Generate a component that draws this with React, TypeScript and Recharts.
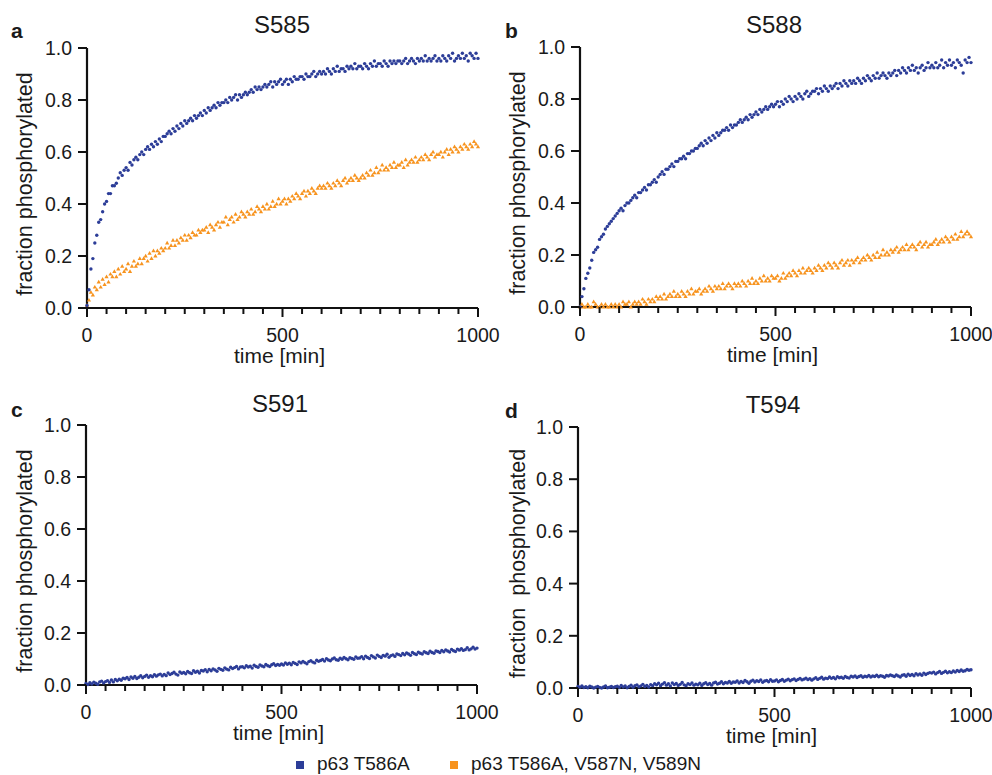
import React from "react"
import { ScatterChart, Scatter, XAxis, YAxis } from "recharts"

const FONT = '"Liberation Sans", Arial, Helvetica, sans-serif'
const BLUE = "#2C3D98"
const ORANGE = "#F7931E"
const AXIS = "#111"

// sampling times [min]
const TIMES = [
  0, 5, 10, 15, 20, 25, 30, 35, 40, 45, 50, 55, 60, 65, 70, 75, 80, 85, 90, 95,
  100, 105, 110, 115, 120, 125, 130, 135, 140, 145, 150, 155, 160, 165, 170, 175, 180, 185, 190, 195,
  200, 205, 210, 215, 220, 225, 230, 235, 240, 245, 250, 255, 260, 265, 270, 275, 280, 285, 290, 295,
  300, 305, 310, 315, 320, 325, 330, 335, 340, 345, 350, 355, 360, 365, 370, 375, 380, 385, 390, 395,
  400, 405, 410, 415, 420, 425, 430, 435, 440, 445, 450, 455, 460, 465, 470, 475, 480, 485, 490, 495,
  500, 505, 510, 515, 520, 525, 530, 535, 540, 545, 550, 555, 560, 565, 570, 575, 580, 585, 590, 595,
  600, 605, 610, 615, 620, 625, 630, 635, 640, 645, 650, 655, 660, 665, 670, 675, 680, 685, 690, 695,
  700, 705, 710, 715, 720, 725, 730, 735, 740, 745, 750, 755, 760, 765, 770, 775, 780, 785, 790, 795,
  800, 805, 810, 815, 820, 825, 830, 835, 840, 845, 850, 855, 860, 865, 870, 875, 880, 885, 890, 895,
  900, 905, 910, 915, 920, 925, 930, 935, 940, 945, 950, 955, 960, 965, 970, 975, 980, 985, 990, 995,
  1000,
]

const X_TICKS = [0, 50, 100, 150, 200, 250, 300, 350, 400, 450, 500, 550, 600, 650, 700, 750, 800, 850, 900, 950, 1000]
const Y_TICKS = [0, 0.2, 0.4, 0.6, 0.8, 1.0]

// S585
const s585Blue = [
  0.01, 0.07, 0.15, 0.19, 0.25, 0.28, 0.33, 0.34, 0.37, 0.40, 0.41, 0.44, 0.44, 0.47, 0.47, 0.48, 0.50, 0.52, 0.51, 0.53,
  0.54, 0.53, 0.56, 0.55, 0.57, 0.58, 0.57, 0.59, 0.60, 0.59, 0.61, 0.62, 0.61, 0.63, 0.62, 0.64, 0.63, 0.65, 0.64, 0.66,
  0.66, 0.67, 0.68, 0.67, 0.69, 0.68, 0.70, 0.69, 0.71, 0.70, 0.72, 0.71, 0.72, 0.73, 0.72, 0.74, 0.73, 0.74, 0.75, 0.74,
  0.76, 0.75, 0.77, 0.76, 0.77, 0.78, 0.77, 0.79, 0.78, 0.79, 0.79, 0.80, 0.79, 0.81, 0.80, 0.81, 0.82, 0.80, 0.82, 0.81,
  0.82, 0.83, 0.82, 0.83, 0.84, 0.83, 0.85, 0.84, 0.85, 0.84, 0.85, 0.86, 0.85, 0.86, 0.87, 0.85, 0.87, 0.86, 0.87, 0.88,
  0.86, 0.87, 0.88, 0.86, 0.88, 0.87, 0.89, 0.88, 0.88, 0.89, 0.89, 0.88, 0.90, 0.89, 0.89, 0.90, 0.91, 0.89, 0.90, 0.91,
  0.90, 0.91, 0.90, 0.92, 0.91, 0.90, 0.92, 0.91, 0.93, 0.91, 0.92, 0.92, 0.91, 0.93, 0.92, 0.93, 0.92, 0.94, 0.92, 0.93,
  0.93, 0.92, 0.94, 0.93, 0.92, 0.94, 0.93, 0.95, 0.93, 0.94, 0.94, 0.93, 0.95, 0.94, 0.93, 0.95, 0.94, 0.95, 0.94, 0.95,
  0.95, 0.94, 0.95, 0.96, 0.94, 0.95, 0.96, 0.95, 0.94, 0.96, 0.95, 0.96, 0.95, 0.97, 0.95, 0.96, 0.95, 0.96, 0.97, 0.95,
  0.96, 0.95, 0.97, 0.96, 0.95, 0.97, 0.96, 0.98, 0.95, 0.96, 0.97, 0.96, 0.98, 0.96, 0.97, 0.95, 0.98, 0.97, 0.96, 0.98,
  0.96,
]
const s585Orange = [
  0.01, 0.03, 0.06, 0.05, 0.08, 0.07, 0.10, 0.08, 0.11, 0.09, 0.12, 0.10, 0.13, 0.12, 0.14, 0.12, 0.15, 0.13, 0.16, 0.14,
  0.15, 0.17, 0.14, 0.16, 0.18, 0.16, 0.17, 0.19, 0.17, 0.19, 0.20, 0.18, 0.21, 0.19, 0.22, 0.20, 0.22, 0.21, 0.23, 0.22,
  0.23, 0.25, 0.23, 0.24, 0.26, 0.24, 0.26, 0.25, 0.27, 0.26, 0.28, 0.26, 0.28, 0.27, 0.29, 0.28, 0.28, 0.30, 0.29, 0.30,
  0.30, 0.31, 0.29, 0.32, 0.31, 0.30, 0.32, 0.33, 0.31, 0.33, 0.33, 0.35, 0.32, 0.34, 0.35, 0.33, 0.36, 0.34, 0.35, 0.37,
  0.36, 0.35, 0.37, 0.36, 0.38, 0.36, 0.37, 0.39, 0.38, 0.37, 0.39, 0.38, 0.40, 0.38, 0.39, 0.41, 0.39, 0.40, 0.42, 0.40,
  0.41, 0.42, 0.40, 0.42, 0.41, 0.43, 0.42, 0.44, 0.43, 0.42, 0.44, 0.45, 0.43, 0.45, 0.44, 0.46, 0.45, 0.44, 0.46, 0.47,
  0.46, 0.47, 0.46, 0.48, 0.47, 0.46, 0.48, 0.47, 0.49, 0.48, 0.47, 0.49, 0.50, 0.48, 0.49, 0.50, 0.49, 0.51, 0.50, 0.49,
  0.50, 0.51, 0.50, 0.52, 0.51, 0.53, 0.51, 0.52, 0.54, 0.52, 0.53, 0.55, 0.53, 0.54, 0.53, 0.55, 0.54, 0.56, 0.54, 0.55,
  0.55, 0.56, 0.54, 0.57, 0.55, 0.56, 0.57, 0.56, 0.58, 0.56, 0.57, 0.58, 0.57, 0.59, 0.58, 0.57, 0.59, 0.60, 0.58, 0.59,
  0.59, 0.60, 0.58, 0.60, 0.61, 0.59, 0.61, 0.60, 0.62, 0.61, 0.60, 0.62, 0.61, 0.63, 0.62, 0.61, 0.63, 0.62, 0.64, 0.63,
  0.62,
]

// S588
const s588Blue = [
  0.00, 0.04, 0.07, 0.11, 0.13, 0.15, 0.18, 0.21, 0.22, 0.23, 0.26, 0.27, 0.28, 0.30, 0.31, 0.32, 0.33, 0.34, 0.35, 0.36,
  0.37, 0.38, 0.37, 0.39, 0.40, 0.40, 0.41, 0.42, 0.43, 0.42, 0.44, 0.44, 0.45, 0.46, 0.45, 0.47, 0.47, 0.48, 0.49, 0.48,
  0.50, 0.51, 0.52, 0.51, 0.53, 0.53, 0.54, 0.55, 0.54, 0.56, 0.56, 0.57, 0.57, 0.58, 0.57, 0.59, 0.59, 0.60, 0.60, 0.61,
  0.61, 0.62, 0.63, 0.62, 0.64, 0.63, 0.65, 0.64, 0.66, 0.65, 0.67, 0.66, 0.67, 0.68, 0.68, 0.69, 0.68, 0.70, 0.69, 0.70,
  0.70, 0.71, 0.72, 0.71, 0.72, 0.73, 0.72, 0.74, 0.73, 0.74, 0.75, 0.74, 0.76, 0.75, 0.76, 0.77, 0.76, 0.77, 0.78, 0.77,
  0.78, 0.79, 0.77, 0.79, 0.78, 0.80, 0.79, 0.81, 0.80, 0.79, 0.81, 0.80, 0.82, 0.81, 0.80, 0.82, 0.83, 0.81, 0.82, 0.83,
  0.83, 0.84, 0.82, 0.84, 0.83, 0.85, 0.84, 0.83, 0.85, 0.84, 0.85, 0.86, 0.84, 0.86, 0.85, 0.87, 0.86, 0.85, 0.87, 0.86,
  0.87, 0.86, 0.88, 0.87, 0.86, 0.88, 0.87, 0.89, 0.88, 0.87, 0.89, 0.88, 0.90, 0.88, 0.89, 0.90, 0.89, 0.88, 0.90, 0.89,
  0.90, 0.91, 0.89, 0.91, 0.90, 0.92, 0.91, 0.90, 0.92, 0.91, 0.93, 0.91, 0.92, 0.90, 0.92, 0.93, 0.91, 0.92, 0.94, 0.92,
  0.93, 0.92, 0.94, 0.92, 0.93, 0.95, 0.92, 0.94, 0.93, 0.95, 0.93, 0.94, 0.92, 0.95, 0.94, 0.93, 0.90, 0.95, 0.94, 0.96,
  0.94,
]
const s588Orange = [
  0.00, 0.01, 0.00, 0.00, 0.01, 0.00, 0.00, 0.02, 0.01, 0.00, 0.00, 0.01, 0.00, 0.01, 0.00, 0.00, 0.01, 0.00, 0.01, 0.00,
  0.01, 0.00, 0.02, 0.01, 0.01, 0.02, 0.00, 0.01, 0.02, 0.01, 0.02, 0.01, 0.03, 0.02, 0.01, 0.03, 0.02, 0.03, 0.02, 0.04,
  0.03, 0.04, 0.03, 0.05, 0.03, 0.04, 0.05, 0.04, 0.06, 0.04, 0.05, 0.04, 0.06, 0.05, 0.04, 0.06, 0.05, 0.07, 0.05, 0.06,
  0.06, 0.07, 0.05, 0.06, 0.07, 0.06, 0.08, 0.07, 0.06, 0.08, 0.07, 0.08, 0.07, 0.09, 0.07, 0.08, 0.09, 0.08, 0.07, 0.09,
  0.08, 0.09, 0.08, 0.10, 0.09, 0.08, 0.10, 0.09, 0.11, 0.09, 0.10, 0.09, 0.11, 0.10, 0.12, 0.10, 0.11, 0.10, 0.12, 0.11,
  0.11, 0.12, 0.10, 0.11, 0.13, 0.11, 0.12, 0.13, 0.12, 0.14, 0.13, 0.12, 0.14, 0.13, 0.15, 0.13, 0.14, 0.15, 0.14, 0.13,
  0.15, 0.14, 0.16, 0.15, 0.14, 0.16, 0.15, 0.17, 0.16, 0.15, 0.17, 0.16, 0.15, 0.17, 0.18, 0.16, 0.17, 0.18, 0.16, 0.18,
  0.17, 0.18, 0.19, 0.17, 0.18, 0.19, 0.18, 0.20, 0.19, 0.18, 0.20, 0.19, 0.21, 0.19, 0.20, 0.22, 0.20, 0.21, 0.20, 0.22,
  0.21, 0.22, 0.23, 0.21, 0.22, 0.23, 0.22, 0.24, 0.22, 0.23, 0.24, 0.23, 0.22, 0.24, 0.25, 0.23, 0.24, 0.25, 0.23, 0.24,
  0.24, 0.25, 0.26, 0.24, 0.25, 0.26, 0.25, 0.27, 0.26, 0.25, 0.27, 0.26, 0.28, 0.26, 0.27, 0.29, 0.27, 0.28, 0.29, 0.28,
  0.27,
]

// S591
const s591Blue = [
  0.006, 0.002, 0.009, 0.004, 0.011, 0.007, 0.003, 0.012, 0.015, 0.008, 0.013, 0.017, 0.010, 0.019, 0.012, 0.021, 0.016, 0.022, 0.018, 0.026,
  0.024, 0.029, 0.021, 0.031, 0.026, 0.033, 0.025, 0.030, 0.036, 0.028, 0.033, 0.038, 0.030, 0.036, 0.032, 0.040, 0.034, 0.039, 0.042, 0.035,
  0.041, 0.036, 0.046, 0.040, 0.044, 0.049, 0.042, 0.038, 0.050, 0.045, 0.048, 0.043, 0.052, 0.047, 0.044, 0.055, 0.049, 0.053, 0.046, 0.056,
  0.054, 0.059, 0.051, 0.060, 0.055, 0.062, 0.058, 0.053, 0.064, 0.060, 0.057, 0.066, 0.061, 0.058, 0.068, 0.063, 0.067, 0.071, 0.062, 0.069,
  0.070, 0.066, 0.074, 0.069, 0.072, 0.065, 0.076, 0.071, 0.068, 0.077, 0.073, 0.070, 0.079, 0.074, 0.071, 0.078, 0.082, 0.075, 0.079, 0.076,
  0.081, 0.077, 0.085, 0.080, 0.084, 0.078, 0.087, 0.083, 0.079, 0.089, 0.085, 0.091, 0.086, 0.082, 0.090, 0.093, 0.088, 0.085, 0.095, 0.091,
  0.094, 0.098, 0.092, 0.101, 0.096, 0.093, 0.100, 0.104, 0.097, 0.095, 0.103, 0.099, 0.106, 0.101, 0.097, 0.105, 0.102, 0.099, 0.108, 0.103,
  0.104, 0.109, 0.101, 0.111, 0.106, 0.102, 0.113, 0.108, 0.104, 0.115, 0.110, 0.106, 0.114, 0.111, 0.118, 0.107, 0.113, 0.116, 0.110, 0.119,
  0.117, 0.113, 0.121, 0.116, 0.123, 0.119, 0.114, 0.125, 0.120, 0.117, 0.126, 0.122, 0.119, 0.128, 0.124, 0.121, 0.130, 0.125, 0.122, 0.131,
  0.129, 0.125, 0.133, 0.128, 0.135, 0.131, 0.127, 0.137, 0.132, 0.129, 0.138, 0.134, 0.140, 0.133, 0.136, 0.143, 0.135, 0.139, 0.145, 0.138,
  0.142,
]

// T594
const t594Blue = [
  0.006, 0.003, 0.008, 0.002, 0.005, 0.001, 0.007, 0.004, 0.000, 0.003, 0.006, 0.002, 0.000, 0.004, 0.008, 0.001, 0.003, 0.006, 0.002, 0.005,
  0.007, 0.002, 0.010, 0.004, 0.008, 0.001, 0.006, 0.011, 0.003, 0.009, 0.012, 0.005, 0.008, 0.014, 0.006, 0.010, 0.004, 0.013, 0.009, 0.016,
  0.012, 0.018, 0.009, 0.015, 0.020, 0.011, 0.016, 0.008, 0.019, 0.013, 0.017, 0.010, 0.014, 0.021, 0.012, 0.009, 0.016, 0.013, 0.019, 0.011,
  0.015, 0.012, 0.018, 0.010, 0.016, 0.020, 0.013, 0.017, 0.011, 0.019, 0.022, 0.015, 0.018, 0.024, 0.016, 0.021, 0.019, 0.025, 0.018, 0.023,
  0.022, 0.027, 0.019, 0.025, 0.021, 0.029, 0.024, 0.018, 0.026, 0.030, 0.023, 0.028, 0.025, 0.031, 0.022, 0.027, 0.029, 0.024, 0.032, 0.026,
  0.027, 0.031, 0.024, 0.029, 0.033, 0.026, 0.030, 0.034, 0.028, 0.032, 0.035, 0.029, 0.033, 0.037, 0.031, 0.034, 0.038, 0.032, 0.036, 0.030,
  0.035, 0.039, 0.033, 0.037, 0.041, 0.034, 0.038, 0.036, 0.042, 0.037, 0.040, 0.035, 0.043, 0.039, 0.041, 0.037, 0.044, 0.040, 0.038, 0.045,
  0.042, 0.046, 0.040, 0.044, 0.047, 0.041, 0.045, 0.043, 0.048, 0.042, 0.046, 0.044, 0.049, 0.043, 0.047, 0.045, 0.041, 0.048, 0.046, 0.050,
  0.047, 0.044, 0.050, 0.046, 0.042, 0.049, 0.051, 0.045, 0.053, 0.048, 0.052, 0.047, 0.055, 0.050, 0.054, 0.049, 0.057, 0.052, 0.056, 0.059,
  0.057, 0.061, 0.054, 0.059, 0.063, 0.056, 0.060, 0.064, 0.058, 0.062, 0.059, 0.065, 0.061, 0.067, 0.063, 0.069, 0.064, 0.066, 0.071, 0.068,
  0.070,
]

const toRows = (ys: number[]) => TIMES.map((t, i) => ({ t, y: ys[i] }))

const Dot = (p: any) => <circle cx={p.cx} cy={p.cy} r={1.7} fill={BLUE} />
const Tri = (p: any) => (
  <path d={`M${p.cx},${p.cy - 2.3}L${p.cx + 2.1},${p.cy + 1.4}L${p.cx - 2.1},${p.cy + 1.4}Z`} fill={ORANGE} />
)

const XTick = (p: any) => {
  const v = p.payload.value
  const major = v % 500 === 0
  return (
    <g>
      <line x1={p.x} x2={p.x} y1={p.y} y2={p.y + (major ? 9 : 6)} stroke={AXIS} strokeWidth={2} />
      {major && (
        <text x={p.x} y={p.y + 34} textAnchor="middle" fontSize={19.5} fontFamily={FONT} fill="#1a1a1a">{v}</text>
      )}
    </g>
  )
}

const YTick = (p: any) => (
  <g>
    <line x1={p.x - 9} x2={p.x} y1={p.y} y2={p.y} stroke={AXIS} strokeWidth={2} />
    <text x={p.x - 15} y={p.y} textAnchor="end" dominantBaseline="central" fontSize={19.5} fontFamily={FONT} fill="#1a1a1a">
      {Number(p.payload.value).toFixed(1)}
    </text>
  </g>
)

type Series = { rows: { t: number; y: number }[]; kind: "blue" | "orange"; name: string }

type PanelProps = {
  left: number
  top: number
  width: number
  margin: { top: number; right: number; bottom: number; left: number }
  yLabel: string
  yLabelX: number
  series: Series[]
}

const Panel = ({ left, top, width, margin, yLabel, yLabelX, series }: PanelProps) => (
  <div style={{ position: "absolute", left, top }}>
    <ScatterChart width={width} height={380} margin={margin}>
      <XAxis
        type="number"
        dataKey="t"
        domain={[0, 1000]}
        ticks={X_TICKS}
        interval={0}
        height={60}
        tickSize={0}
        tickMargin={0}
        tickLine={false}
        axisLine={{ stroke: AXIS, strokeWidth: 2.2 }}
        tick={<XTick />}
        label={{
          content: (lp: any) => {
            const vb = lp.viewBox
            return (
              <text x={vb.x + vb.width / 2 - 3} y={vb.y + 55} textAnchor="middle" fontSize={21} fontFamily={FONT} fill="#1a1a1a">
                time [min]
              </text>
            )
          },
        }}
      />
      <YAxis
        type="number"
        dataKey="y"
        domain={[0, 1]}
        ticks={Y_TICKS}
        interval={0}
        width={80}
        tickSize={0}
        tickMargin={0}
        tickLine={false}
        axisLine={{ stroke: AXIS, strokeWidth: 2.2 }}
        tick={<YTick />}
        label={{
          content: (lp: any) => {
            const vb = lp.viewBox
            const cy = vb.y + vb.height / 2 + 6
            return (
              <text
                x={yLabelX}
                y={cy}
                transform={`rotate(-90 ${yLabelX} ${cy})`}
                textAnchor="middle"
                dominantBaseline="central"
                fontSize={21.5}
                fontFamily={FONT}
                fill="#1a1a1a"
              >
                {yLabel}
              </text>
            )
          },
        }}
      />
      {series.map((s) => (
        <Scatter
          key={s.name}
          name={s.name}
          data={s.rows}
          dataKey="y"
          isAnimationActive={false}
          shape={s.kind === "blue" ? <Dot /> : <Tri />}
        />
      ))}
    </ScatterChart>
  </div>
)

const LABEL = "fraction phosphorylated"
const LEGEND_BLUE = "p63 T586A"
const LEGEND_ORANGE = "p63 T586A, V587N, V589N"

export default function App() {
  const txt = { fontFamily: FONT, fill: "#1a1a1a" }
  return (
    <div style={{ position: "absolute", left: 0, top: 0, width: 992, height: 775, background: "#fff", overflow: "hidden" }}>
      <Panel
        left={0}
        top={0}
        width={510}
        margin={{ top: 48, right: 32, bottom: 12, left: 7 }}
        yLabel={LABEL}
        yLabelX={25}
        series={[
          { rows: toRows(s585Orange), kind: "orange", name: LEGEND_ORANGE },
          { rows: toRows(s585Blue), kind: "blue", name: LEGEND_BLUE },
        ]}
      />
      <Panel
        left={490}
        top={0}
        width={502}
        margin={{ top: 47, right: 21, bottom: 13, left: 10 }}
        yLabel={LABEL}
        yLabelX={28}
        series={[
          { rows: toRows(s588Orange), kind: "orange", name: LEGEND_ORANGE },
          { rows: toRows(s588Blue), kind: "blue", name: LEGEND_BLUE },
        ]}
      />
      <Panel
        left={0}
        top={380}
        width={510}
        margin={{ top: 45, right: 33, bottom: 15, left: 6 }}
        yLabel={LABEL}
        yLabelX={25}
        series={[{ rows: toRows(s591Blue), kind: "blue", name: LEGEND_BLUE }]}
      />
      <Panel
        left={490}
        top={380}
        width={502}
        margin={{ top: 47, right: 21, bottom: 12, left: 8 }}
        yLabel={"fraction\u00a0\u00a0phosphorylated"}
        yLabelX={28}
        series={[{ rows: toRows(t594Blue), kind: "blue", name: LEGEND_BLUE }]}
      />
      <svg width={992} height={775} style={{ position: "absolute", left: 0, top: 0, pointerEvents: "none" }}>
        <text x={11} y={38} fontSize={21} fontWeight="bold" {...txt}>a</text>
        <text x={505} y={38} fontSize={21} fontWeight="bold" {...txt}>b</text>
        <text x={11} y={417} fontSize={21} fontWeight="bold" {...txt}>c</text>
        <text x={505} y={418} fontSize={21} fontWeight="bold" {...txt}>d</text>
        <text x={282} y={33} fontSize={24} textAnchor="middle" {...txt}>S585</text>
        <text x={774} y={33} fontSize={24} textAnchor="middle" {...txt}>S588</text>
        <text x={280} y={412} fontSize={24} textAnchor="middle" {...txt}>S591</text>
        <text x={773} y={413} fontSize={24} textAnchor="middle" {...txt}>T594</text>
        <rect x={296} y={761} width={8} height={8} fill={BLUE} />
        <text x={317} y={770} fontSize={19} {...txt}>{LEGEND_BLUE}</text>
        <rect x={450} y={761} width={8} height={8} fill={ORANGE} />
        <text x={471} y={770} fontSize={19} {...txt}>{LEGEND_ORANGE}</text>
      </svg>
    </div>
  )
}
